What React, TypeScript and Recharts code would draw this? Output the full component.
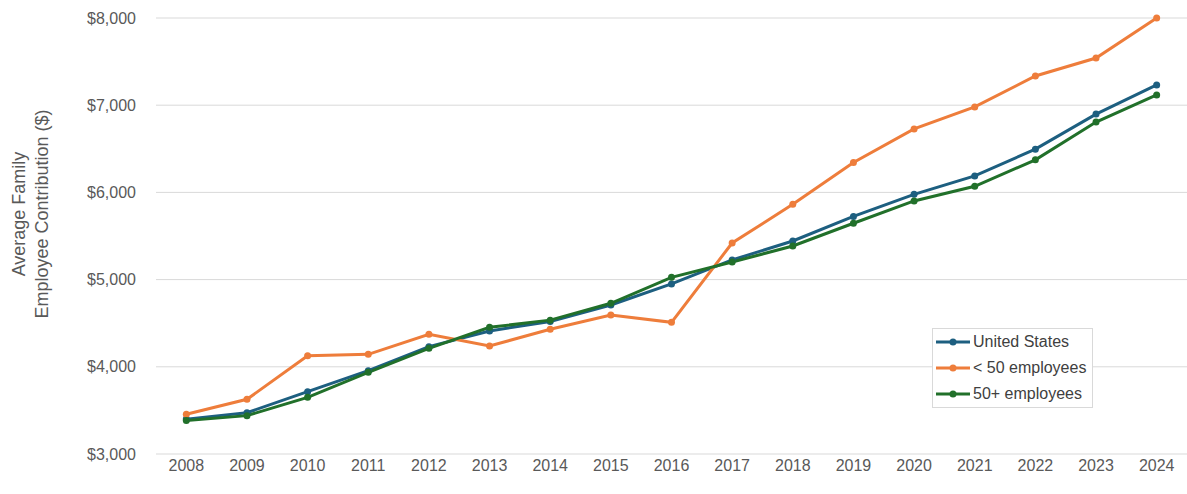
import { LineChart, Line, XAxis, YAxis, CartesianGrid } from 'recharts';

const years = ['2008', '2009', '2010', '2011', '2012', '2013', '2014', '2015', '2016', '2017', '2018', '2019', '2020', '2021', '2022', '2023', '2024'];
const unitedStates = [3400, 3474, 3715, 3956, 4231, 4411, 4520, 4709, 4950, 5225, 5443, 5725, 5978, 6189, 6496, 6898, 7232];
const under50 = [3455, 3627, 4127, 4143, 4372, 4239, 4430, 4594, 4510, 5420, 5863, 6344, 6728, 6980, 7335, 7541, 8000];
const over50 = [3385, 3440, 3650, 3937, 4212, 4453, 4535, 4728, 5026, 5202, 5385, 5646, 5902, 6070, 6373, 6807, 7118];
const yTicks = [3000, 4000, 5000, 6000, 7000, 8000];

const seriesList = [
  { key: 'us', name: 'United States', color: '#1d5f80' },
  { key: 'small', name: '< 50 employees', color: '#ee7d3b' },
  { key: 'large', name: '50+ employees', color: '#21702a' },
];

const data = years.map((year, i) => ({
  year,
  us: unitedStates[i],
  small: under50[i],
  large: over50[i],
}));

const FONT = '"Liberation Sans", Arial, sans-serif';

const fmt = (v: number) => '$' + v.toLocaleString('en-US');

function AxisTitle() {
  const cy = 214;
  return (
    <g fill="#595959" fontSize={18} fontFamily={FONT}>
      <text x={19} y={cy} textAnchor="middle" dominantBaseline="central" transform={`rotate(-90 19 ${cy})`}>
        Average Family
      </text>
      <text x={42} y={cy} textAnchor="middle" dominantBaseline="central" transform={`rotate(-90 42 ${cy})`}>
        Employee Contribution ($)
      </text>
    </g>
  );
}

// legend box sits inside the plot, lower right
function LegendBox() {
  return (
    <div
      style={{
        position: 'absolute',
        left: 932,
        top: 328,
        border: '1px solid #d9d9d9',
        background: '#fff',
        padding: '0px 6px 0px 2px',
        fontFamily: FONT,
        fontSize: 16,
        color: '#404040',
      }}
    >
      {seriesList.map((s) => (
        <div key={s.key} style={{ display: 'flex', alignItems: 'center', height: 26 }}>
          <svg width={36} height={10} style={{ marginRight: 2 }}>
            <line x1={1} y1={5} x2={35} y2={5} stroke={s.color} strokeWidth={3} />
            <circle cx={18} cy={5} r={3.5} fill={s.color} />
          </svg>
          <span>{s.name}</span>
        </div>
      ))}
    </div>
  );
}

export default function App() {
  return (
    <div style={{ position: 'absolute', left: 0, top: 0, width: 1187, height: 494, background: '#fff' }}>
      <LineChart width={1187} height={494} data={data} margin={{ top: 18, right: 0, bottom: 10, left: 0 }}>
        <CartesianGrid vertical={false} stroke="#d9d9d9" strokeWidth={1} />
        <XAxis
          dataKey="year"
          scale="band"
          height={30}
          axisLine={false}
          tickLine={false}
          tickSize={0}
          tickMargin={6}
          tick={{ fill: '#595959', fontSize: 16, fontFamily: FONT }}
          interval={0}
        />
        <YAxis
          width={156}
          domain={[3000, 8000]}
          ticks={yTicks}
          tickFormatter={fmt}
          axisLine={false}
          tickLine={false}
          tickSize={0}
          tickMargin={20}
          tick={{ fill: '#595959', fontSize: 16, fontFamily: FONT }}
          label={<AxisTitle />}
        />
        {seriesList.map((s) => (
          <Line
            key={s.key}
            dataKey={s.key}
            name={s.name}
            stroke={s.color}
            strokeWidth={3}
            dot={{ r: 3.5, fill: s.color, stroke: s.color, strokeWidth: 0 }}
            activeDot={false}
            isAnimationActive={false}
          />
        ))}
      </LineChart>
      <LegendBox />
    </div>
  );
}
